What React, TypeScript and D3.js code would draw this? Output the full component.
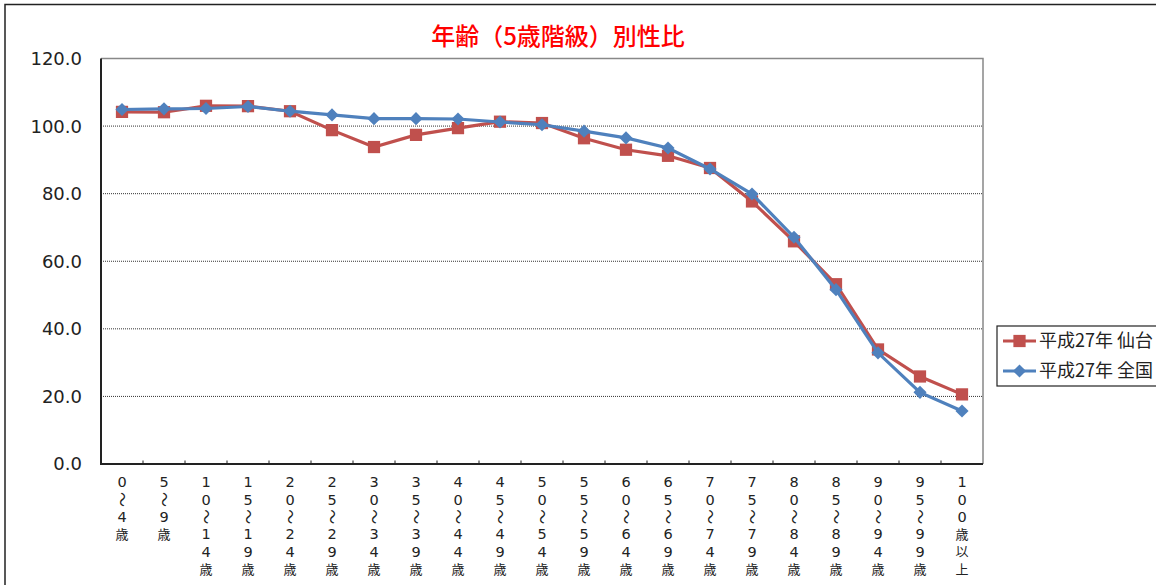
import * as d3 from "d3";

// 年齢（5歳階級）別性比
const categories = [
  "0～4歳", "5～9歳", "10～14歳", "15～19歳", "20～24歳", "25～29歳", "30～34歳",
  "35～39歳", "40～44歳", "45～49歳", "50～54歳", "55～59歳", "60～64歳", "65～69歳",
  "70～74歳", "75～79歳", "80～84歳", "85～89歳", "90～94歳", "95～99歳", "100歳以上",
];
const sendai = [
  104.2, 104.1, 106.0, 105.9, 104.4, 98.8, 93.8, 97.4, 99.4, 101.3, 100.9,
  96.4, 93.0, 91.2, 87.6, 77.7, 65.9, 53.2, 33.9, 25.9, 20.6,
];
const zenkoku = [
  104.9, 105.1, 105.2, 105.8, 104.4, 103.3, 102.2, 102.2, 102.1, 101.2, 100.4,
  98.5, 96.5, 93.5, 87.3, 79.9, 67.1, 51.6, 32.9, 21.2, 15.7,
];
const yTicks = [0, 20, 40, 60, 80, 100, 120];
const seriesNames = ["平成27年 仙台", "平成27年 全国"];

const W = 1156;
const H = 585;
const left = 101;
const right = 983;
const top = 58.5;
const bottom = 464;
const RED = "#C0504D";
const BLUE = "#4F81BD";
const FONT = "'Noto Sans CJK JP', 'Noto Sans', sans-serif";
const DIGITS = "'DejaVu Sans', sans-serif";

const App = () => {
  const x = d3.scaleBand<string>().domain(categories).range([left, right]);
  const y = d3.scaleLinear().domain([0, 120]).range([bottom, top]);
  const cx = (c: string) => (x(c) as number) + x.bandwidth() / 2;

  const line = d3
    .line<number>()
    .x((_, i) => cx(categories[i]))
    .y((d) => y(d));

  const square = d3.symbol().type(d3.symbolSquare).size(150)();
  const diamond = d3.symbol().type(d3.symbolDiamond2).size(110)();

  // tick boundaries between categories
  const bounds = categories.slice(1).map((c) => x(c) as number);

  return (
    <svg
      width={W}
      height={H}
      style={{ position: "absolute", left: 0, top: 0, background: "#fff" }}
      fontFamily={FONT}
    >
      {/* outer chart border */}
      <rect x={5} y={4.5} width={W + 20} height={H + 20} fill="#fff" stroke="#222" strokeWidth={1.5} />

      <text x={558} y={45} textAnchor="middle" fill="#FF0000" fontSize={24} fontWeight={500}>
        年齢（5歳階級）別性比
      </text>

      {/* plot frame top/right */}
      <path d={`M${left},${top}H${right}V${bottom}`} fill="none" stroke="#888" strokeWidth={1.5} />

      {/* gridlines */}
      {yTicks
        .filter((t) => t > 0 && t < 120)
        .map((t) => (
          <line
            key={t}
            x1={left}
            x2={right}
            y1={y(t)}
            y2={y(t)}
            stroke="#333"
            strokeWidth={1}
            strokeDasharray="1,1"
          />
        ))}

      {/* axes */}
      <path d={`M${left},${top}V${bottom}H${right}`} fill="none" stroke="#222" strokeWidth={2} />
      {bounds.map((b, i) => (
        <line key={i} x1={b} x2={b} y1={bottom} y2={bottom - 3.5} stroke="#222" strokeWidth={1} />
      ))}

      {/* y labels */}
      {yTicks.map((t) => (
        <text
          key={t}
          x={82}
          y={y(t)}
          dy="0.36em"
          textAnchor="end"
          fontSize={18}
          fontFamily={DIGITS}
          fill="#222"
        >
          {d3.format(".1f")(t)}
        </text>
      ))}

      {/* x labels, one character per line */}
      {categories.map((c) => (
        <g key={c} transform={`translate(${cx(c)},0)`}>
          {Array.from(c).map((ch, j) => {
            const yy = 482 + j * 17.4;
            if (ch === "～") {
              return (
                <text
                  key={j}
                  transform={`translate(0,${yy}) rotate(90)`}
                  textAnchor="middle"
                  dy="0.35em"
                  fontSize={15}
                  fill="#222"
                >
                  ～
                </text>
              );
            }
            const kanji = /[歳以上]/.test(ch);
            return (
              <text
                key={j}
                x={0}
                y={yy}
                dy="0.36em"
                textAnchor="middle"
                fontSize={kanji ? 13 : 14.5}
                fontFamily={kanji ? FONT : DIGITS}
                fill="#222"
              >
                {ch}
              </text>
            );
          })}
        </g>
      ))}

      {/* series */}
      <path d={line(sendai) as string} fill="none" stroke={RED} strokeWidth={3.2} />
      {sendai.map((v, i) => (
        <path key={i} d={square as string} transform={`translate(${cx(categories[i])},${y(v)})`} fill={RED} />
      ))}
      <path d={line(zenkoku) as string} fill="none" stroke={BLUE} strokeWidth={3.2} />
      {zenkoku.map((v, i) => (
        <path key={i} d={diamond as string} transform={`translate(${cx(categories[i])},${y(v)})`} fill={BLUE} />
      ))}

      {/* legend */}
      <rect x={997} y={326} width={180} height={60} fill="#fff" stroke="#222" strokeWidth={1.2} />
      {seriesNames.map((n, i) => {
        const ly = 341 + i * 30;
        const col = i === 0 ? RED : BLUE;
        return (
          <g key={n}>
            <line x1={1003} x2={1036} y1={ly} y2={ly} stroke={col} strokeWidth={3.2} />
            <path
              d={(i === 0 ? square : diamond) as string}
              transform={`translate(1019.5,${ly})`}
              fill={col}
            />
            <text x={1039} y={ly} dy="0.36em" fontSize={18} fill="#222">
              {n}
            </text>
          </g>
        );
      })}
    </svg>
  );
};

export default App;
